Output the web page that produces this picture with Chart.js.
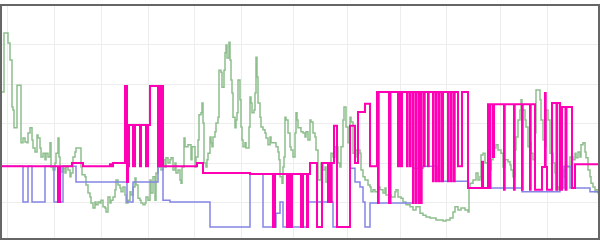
<!DOCTYPE html>
<html>
<head>
<meta charset="utf-8">
<script src="https://cdn.jsdelivr.net/npm/chart.js@4/dist/chart.umd.min.js"></script>
<style>
  html, body { margin: 0; padding: 0; background: #fff; }
  canvas { display: block; }
</style>
</head>
<body>
<canvas id="levels" width="600" height="241"></canvas>
<script>
// ---- data: [time, level] change points (stepped series) ----
const timeTicks = [8, 54, 101, 148, 194, 241, 293, 348, 400, 447, 500, 547];
const levelTicks = [10, 20, 30, 40, 50];

const sensorA = [
  [0,44.8],[1,38.0],[4,52.9],[8,50.4],[10,46.1],[12,34.2],[13,33.4],[14,28.9],[17,39.7],[21,25.1],
  [23,26.3],[25,25.3],[27,25.1],[28,27.6],[30,28.9],[32,25.8],[33,23.8],[35,22.8],[37,27.1],[38,26.3],
  [40,23.8],[41,21.5],[43,22.5],[45,20.8],[46,22.5],[48,21.5],[50,25.1],[51,19.0],[53,18.2],[55,20.0],
  [56,22.5],[58,26.3],[59,21.5],[60,19.0],[61,17.7],[63,18.7],[65,17.5],[66,19.0],[68,18.2],[70,16.5],
  [71,17.5],[73,21.5],[75,22.8],[76,23.8],[81,19.0],[82,17.0],[85,16.5],[86,14.4],[88,12.4],[90,11.4],
  [91,9.9],[93,8.6],[95,10.1],[96,9.4],[98,10.1],[100,9.9],[101,10.6],[103,8.9],[105,8.6],[106,7.6],
  [108,11.4],[110,9.9],[111,10.6],[113,11.4],[115,13.2],[116,15.7],[118,14.4],[120,13.7],[121,12.7],[123,13.9],
  [125,11.9],[126,9.9],[128,10.6],[130,12.7],[131,11.9],[133,13.9],[135,16.2],[136,14.4],[138,11.1],[140,10.6],
  [141,9.9],[143,9.4],[145,9.9],[146,11.4],[148,10.6],[150,15.7],[151,12.4],[153,16.5],[155,10.6],[156,17.5],
  [158,19.0],[160,20.0],[161,18.2],[163,20.8],[165,19.0],[166,21.3],[168,20.0],[170,20.8],[171,21.3],[173,18.2],
  [175,20.0],[176,17.5],[178,18.2],[180,15.7],[181,14.9],[182,19.0],[184,26.3],[185,24.1],[188,24.6],[191,20.8],
  [192,24.1],[195,19.0],[196,21.5],[198,25.8],[199,32.2],[201,32.7],[202,35.2],[203,30.1],[204,20.0],[206,19.0],
  [207,20.8],[208,22.5],[210,26.6],[211,25.1],[212,24.1],[213,26.6],[215,27.9],[216,30.1],[218,31.6],[219,43.5],
  [221,43.0],[222,39.2],[224,43.5],[225,47.9],[226,49.9],[227,46.6],[229,50.6],[230,46.1],[231,41.0],[232,37.7],
  [233,31.6],[235,28.9],[236,30.9],[237,32.7],[238,41.0],[240,36.0],[241,29.1],[242,25.8],[243,24.1],[245,25.1],
  [246,23.8],[249,29.1],[250,36.7],[251,35.2],[252,32.7],[254,33.4],[255,37.7],[256,46.8],[257,41.8],[258,35.2],
  [260,31.6],[261,29.1],[263,28.4],[265,27.6],[266,26.3],[268,24.6],[270,26.6],[271,25.1],[276,24.1],[278,22.8],
  [279,20.8],[280,16.5],[282,14.9],[283,19.0],[284,21.5],[285,31.6],[286,30.9],[288,27.6],[290,24.1],[291,23.3],
  [293,21.5],[295,27.6],[296,32.7],[297,30.9],[298,28.9],[301,27.9],[303,27.6],[305,26.6],[306,27.9],[308,25.8],
  [310,30.9],[311,30.4],[313,27.6],[315,26.6],[316,23.3],[318,15.7],[321,20.0],[323,18.2],[325,19.0],[326,15.2],
  [330,19.0],[331,22.5],[333,21.5],[335,24.1],[338,20.0],[340,19.0],[341,24.1],[343,30.9],[344,34.2],[346,29.1],
  [348,25.1],[350,31.6],[351,30.4],[353,22.5],[355,21.5],[356,23.3],[360,22.5],[361,18.2],[363,16.5],[365,15.7],
  [368,14.4],[370,13.9],[371,12.7],[373,13.2],[375,12.7],[378,13.9],[380,13.2],[383,12.4],[385,13.7],[386,11.9],
  [391,11.4],[395,12.7],[396,13.2],[398,11.4],[401,11.1],[403,10.1],[406,9.4],[410,8.9],[413,8.1],[416,8.9],
  [420,7.3],[423,6.8],[426,6.3],[430,6.1],[436,5.6],[443,5.3],[446,5.6],[450,6.1],[453,7.6],[455,8.9],
  [458,8.1],[461,8.6],[465,8.1],[468,7.6],[469,13.7],[470,14.9],[473,15.7],[476,17.5],[478,15.7],[480,16.5],
  [481,22.0],[483,22.5],[485,20.0],[488,17.5],[490,18.2],[491,20.8],[493,23.8],[496,24.6],[498,23.3],[501,22.5],
  [503,19.0],[505,20.8],[508,20.3],[510,19.5],[511,18.2],[513,16.5],[515,23.3],[516,26.6],[518,30.9],[520,33.4],
  [521,36.0],[522,33.4],[525,30.9],[526,29.1],[528,24.1],[530,25.1],[531,22.5],[533,20.8],[535,27.6],[536,38.5],
  [540,36.0],[541,30.9],[543,25.8],[545,24.1],[546,33.4],[548,30.9],[550,22.5],[553,20.0],[555,17.5],[556,13.2],
  [558,13.9],[560,20.8],[561,18.2],[563,16.5],[565,19.0],[570,21.5],[573,20.8],[575,22.5],[576,21.3],[578,22.8],
  [580,21.5],[581,24.6],[583,25.1],[585,22.8],[586,21.3],[588,18.2],[590,16.5],[591,14.9],[593,13.9],[595,12.7],
  [596,13.2],[598,12.4],[600,12.4]
];

const sensorB = [
  [0,19.2],[23,10.1],[28,19.2],[32,10.1],[45,19.2],[54,10.1],[63,19.2],[76,15.2],[127,10.1],[133,15.2],
  [158,20.0],[163,10.6],[170,10.1],[210,3.8],[250,17.2],[263,3.8],[276,7.3],[280,10.1],[283,3.8],[308,10.1],
  [333,3.8],[350,18.7],[355,15.2],[360,13.9],[363,10.1],[365,3.8],[370,9.9],[413,18.7],[423,19.2],[437,15.4],
  [468,13.7],[522,12.7],[560,13.7],[564,19.2],[570,13.7],[590,12.7],[600,12.7]
];

const setpoint = [
  [0,19.2],[58,10.1],[60,19.2],[72,20.0],[83,19.2],[110,19.7],[111,19.2],[113,20.0],[125,39.5],[127,15.2],
  [128,19.2],[129,29.6],[133,19.2],[135,29.6],[140,19.2],[141,29.6],[146,19.2],[148,29.6],[150,39.5],[158,19.2],
  [159,39.5],[161,19.2],[162,39.5],[163,19.2],[197,20.0],[203,17.5],[250,17.2],[273,3.8],[275,17.2],[287,3.8],
  [288,17.2],[290,3.8],[292,17.2],[301,3.8],[303,17.2],[307,3.8],[308,17.2],[310,20.0],[317,3.8],[322,20.0],
  [328,10.1],[328.7,20.0],[329.5,10.1],[330.2,20.0],[331,10.1],[331.7,20.0],[334,29.4],[337,3.8],[350,29.4],[355,20.0],
  [358,32.9],[365,35.0],[370,19.2],[377,38.0],[378,9.9],[378.7,38.0],[389,9.9],[390.5,38.0],[398,19.2],[399,38.0],
  [401,19.2],[402,38.0],[407,19.2],[407.7,38.0],[410,19.2],[410.7,38.0],[413,9.9],[413.7,38.0],[416,9.9],[416.7,38.0],
  [419,9.9],[419.7,38.0],[421,9.9],[421.7,38.0],[424,19.2],[424.7,38.0],[428,19.2],[428.7,38.0],
  [433,15.4],[433.7,38.0],[436,15.4],[436.7,38.0],[439,15.4],[439.7,38.0],[442,15.4],[443,38.0],
  [448,15.4],[448.7,38.0],[451,15.4],[451.7,38.0],[454,15.4],[454.7,38.0],[458,19.2],[462,38.0],
  [468,13.7],[482,20.3],[483,13.7],[488,34.9],[489.5,13.7],[490.5,34.9],[493,21.5],[494,34.9],[504,13.2],[504.7,34.9],
  [514,13.2],[514.7,34.9],[522,13.2],[522.7,34.9],[530,13.2],[530.7,34.9],[535,13.2],[542,19.0],[545,37.7],[545.7,19.0],
  [547,13.2],[552,35.2],[556.5,13.2],[557.2,35.2],[560,13.2],[562,34.2],[565.5,13.2],[566.5,34.2],[572,13.7],[575,19.7],
  [600,19.5]
];

// turn [t, v] pairs into chart points
function toPoints(pairs) {
  return pairs.map(p => ({ x: p[0], y: p[1] }));
}

// dark frame round the plot area
const framePlugin = {
  id: 'frame',
  afterDraw(chart) {
    const { ctx, chartArea: a } = chart;
    ctx.save();
    ctx.strokeStyle = '#666';
    ctx.lineWidth = 2;
    ctx.strokeRect(a.left, a.top, a.right - a.left, a.bottom - a.top);
    ctx.restore();
  }
};

const ctx = document.getElementById('levels').getContext('2d');
new Chart(ctx, {
  type: 'line',
  data: {
    datasets: [
      { label: 'Setpoint', data: toPoints(setpoint), borderColor: '#ff00b4', borderWidth: 2, stepped: true, pointRadius: 0, fill: false },
      { label: 'Sensor B', data: toPoints(sensorB), borderColor: '#8585e6', borderWidth: 1.5, stepped: true, pointRadius: 0, fill: false },
      { label: 'Sensor A', data: toPoints(sensorA), borderColor: '#8dbf8d', borderWidth: 1.5, stepped: true, pointRadius: 0, fill: false }
    ]
  },
  options: {
    responsive: false,
    animation: false,
    layout: { padding: { left: 1, right: 1, top: 5, bottom: 2 } },
    plugins: { legend: { display: false }, tooltip: { enabled: false } },
    scales: {
      x: {
        type: 'linear', min: 1, max: 599,
        ticks: { display: false },
        grid: { color: '#ededed', drawTicks: false },
        border: { display: false },
        afterBuildTicks: s => { s.ticks = timeTicks.map(v => ({ value: v })); }
      },
      y: {
        min: 0.76, max: 60,
        ticks: { display: false },
        grid: { color: '#ededed', drawTicks: false },
        border: { display: false },
        afterBuildTicks: s => { s.ticks = levelTicks.map(v => ({ value: v })); }
      }
    }
  },
  plugins: [framePlugin]
});
</script>
</body>
</html>
